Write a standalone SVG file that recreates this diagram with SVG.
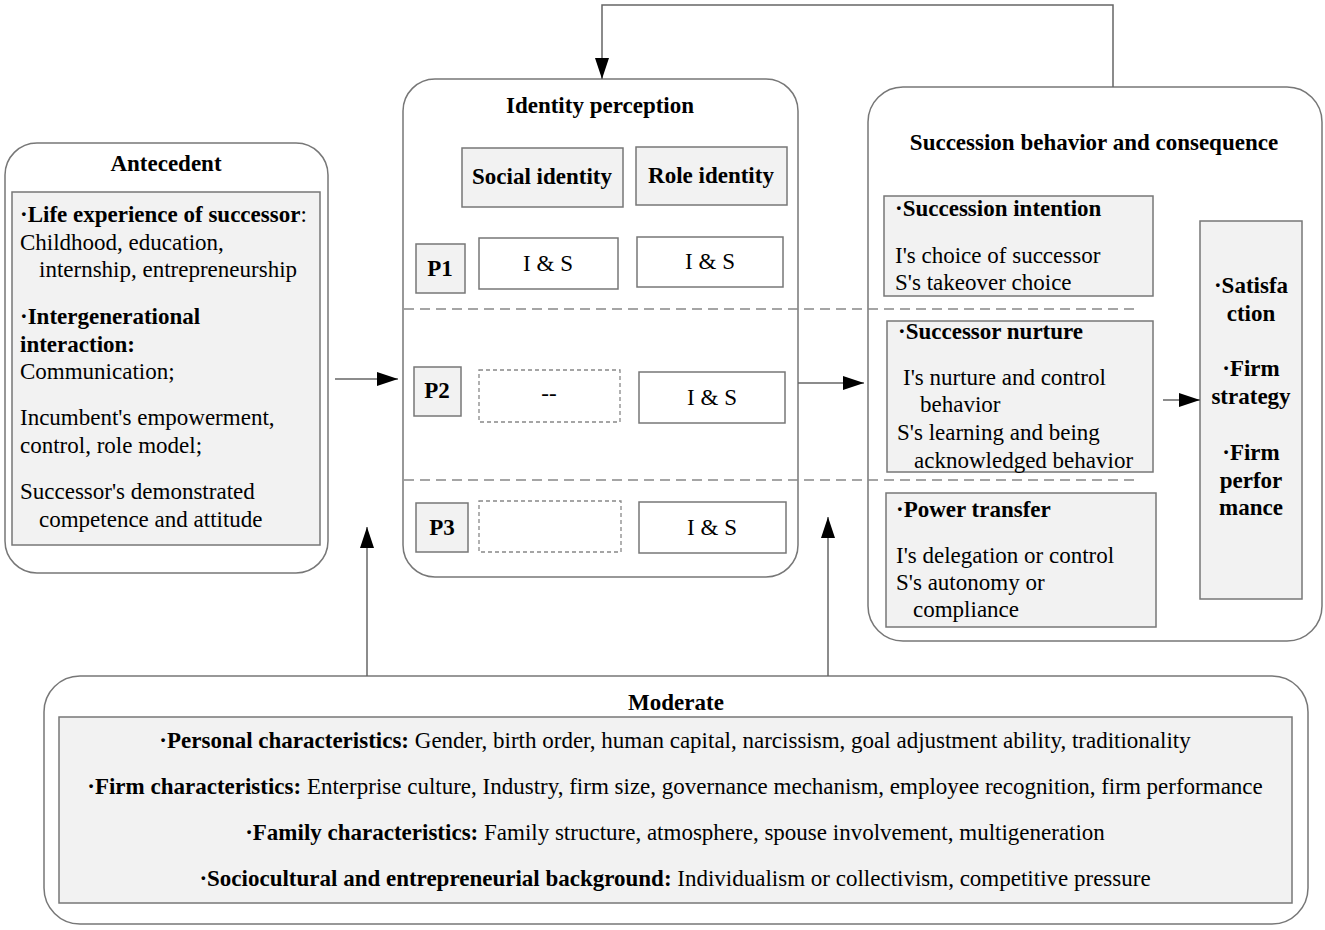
<svg xmlns="http://www.w3.org/2000/svg" width="1325" height="930" viewBox="0 0 1325 930">
<defs>
<style>
text{font-family:"Liberation Serif","Times New Roman",serif;font-size:23px;fill:#000}
.b{font-weight:bold}
.c{text-anchor:middle}
.outer{fill:#fff;stroke:#777;stroke-width:1.5}
.inner{fill:#f2f2f2;stroke:#777;stroke-width:1.5}
.white{fill:#fff;stroke:#777;stroke-width:1.5}
.dbox{fill:#fff;stroke:#888;stroke-width:1.3;stroke-dasharray:4 3}
.conn{fill:none;stroke:#666;stroke-width:1.5}
.sep{fill:none;stroke:#888;stroke-width:1.5;stroke-dasharray:10 6}
</style>
<marker id="ah" viewBox="0 0 21 14" refX="21" refY="7" markerWidth="21" markerHeight="14" markerUnits="userSpaceOnUse" orient="auto">
<path d="M0,0 L21,7 L0,14 Z" fill="#000"/>
</marker>
</defs>
<rect width="1325" height="930" fill="#fff"/>

<g id="antecedent">
<rect class="outer" x="5" y="143" width="323" height="430" rx="32"/>
<rect class="inner" x="12" y="192" width="308" height="353"/>
<text class="b c" x="166" y="171">Antecedent</text>
<text x="20" y="222"><tspan class="b">·Life experience of successor</tspan>:</text>
<text x="20" y="250">Childhood, education,</text>
<text x="39" y="277">internship, entrepreneurship</text>
<text class="b" x="20" y="324">·Intergenerational</text>
<text class="b" x="20" y="352">interaction:</text>
<text x="20" y="379">Communication;</text>
<text x="20" y="425">Incumbent's empowerment,</text>
<text x="20" y="453">control, role model;</text>
<text x="20" y="499">Successor's demonstrated</text>
<text x="39" y="527">competence and attitude</text>
</g>

<g id="identity">
<rect class="outer" x="403" y="79" width="395" height="498" rx="32"/>
<text class="b c" x="600" y="113">Identity perception</text>
<rect class="inner" x="462" y="148" width="161" height="59"/>
<text class="b c" x="542" y="184">Social identity</text>
<rect class="inner" x="636" y="147" width="151" height="58"/>
<text class="b c" x="711" y="183">Role identity</text>
<rect class="inner" x="416" y="244" width="49" height="49"/>
<text class="b c" x="440" y="276">P1</text>
<rect class="white" x="479" y="238" width="139" height="51"/>
<text class="c" x="548" y="271">I &amp; S</text>
<rect class="white" x="637" y="237" width="146" height="50"/>
<text class="c" x="710" y="269">I &amp; S</text>
<rect class="inner" x="414" y="367" width="47" height="49"/>
<text class="b c" x="437" y="398">P2</text>
<rect class="dbox" x="479" y="370" width="141" height="52"/>
<text class="c" x="549" y="401">--</text>
<rect class="white" x="639" y="372" width="146" height="51"/>
<text class="c" x="712" y="405">I &amp; S</text>
<rect class="inner" x="416" y="503" width="52" height="49"/>
<text class="b c" x="442" y="535">P3</text>
<rect class="dbox" x="479" y="501" width="142" height="51"/>
<rect class="white" x="639" y="502" width="147" height="51"/>
<text class="c" x="712" y="535">I &amp; S</text>
</g>

<g id="succession">
<rect class="outer" x="868" y="87" width="454" height="554" rx="35"/>
<text class="b c" x="1094" y="150">Succession behavior and consequence</text>
<rect class="inner" x="884" y="196" width="269" height="100"/>
<text class="b" x="895" y="216">·Succession intention</text>
<text x="895" y="263">I's choice of successor</text>
<text x="895" y="290">S's takeover choice</text>
<rect class="inner" x="887" y="321" width="266" height="151"/>
<text class="b" x="898" y="339">·Successor nurture</text>
<text x="903" y="385">I's nurture and control</text>
<text x="920" y="412">behavior</text>
<text x="897" y="440">S's learning and being</text>
<text x="914" y="468">acknowledged behavior</text>
<rect class="inner" x="886" y="493" width="270" height="134"/>
<text class="b" x="896" y="517">·Power transfer</text>
<text x="896" y="563">I's delegation or control</text>
<text x="896" y="590">S's autonomy or</text>
<text x="913" y="617">compliance</text>
<rect class="inner" x="1200" y="221" width="102" height="378"/>
<text class="b c" x="1251" y="293">·Satisfa</text>
<text class="b c" x="1251" y="321">ction</text>
<text class="b c" x="1251" y="376">·Firm</text>
<text class="b c" x="1251" y="404">strategy</text>
<text class="b c" x="1251" y="460">·Firm</text>
<text class="b c" x="1251" y="488">perfor</text>
<text class="b c" x="1251" y="515">mance</text>
</g>

<g id="moderate">
<rect class="outer" x="44" y="676" width="1264" height="248" rx="36"/>
<rect class="inner" x="59" y="717" width="1233" height="186"/>
<text class="b c" x="676" y="710">Moderate</text>
<text class="c" x="675" y="748"><tspan class="b">·Personal characteristics:</tspan> Gender, birth order, human capital, narcissism, goal adjustment ability, traditionality</text>
<text class="c" x="675" y="794"><tspan class="b">·Firm characteristics:</tspan> Enterprise culture, Industry, firm size, governance mechanism, employee recognition, firm performance</text>
<text class="c" x="675" y="840"><tspan class="b">·Family characteristics:</tspan> Family structure, atmosphere, spouse involvement, multigeneration</text>
<text class="c" x="675" y="886"><tspan class="b">·Sociocultural and entrepreneurial background:</tspan> Individualism or collectivism, competitive pressure</text>
</g>

<g id="connectors">
<line class="sep" x1="404" y1="309" x2="1138" y2="309"/>
<line class="sep" x1="404" y1="480" x2="1138" y2="480"/>
<line class="conn" x1="335" y1="379" x2="398" y2="379" marker-end="url(#ah)"/>
<line class="conn" x1="798" y1="383" x2="864" y2="383" marker-end="url(#ah)"/>
<line class="conn" x1="1163" y1="400" x2="1200" y2="400" marker-end="url(#ah)"/>
<line class="conn" x1="367" y1="676" x2="367" y2="527" marker-end="url(#ah)"/>
<line class="conn" x1="828" y1="676" x2="828" y2="517" marker-end="url(#ah)"/>
<polyline class="conn" points="1113,87 1113,5 602,5 602,79" marker-end="url(#ah)"/>
</g>
</svg>
